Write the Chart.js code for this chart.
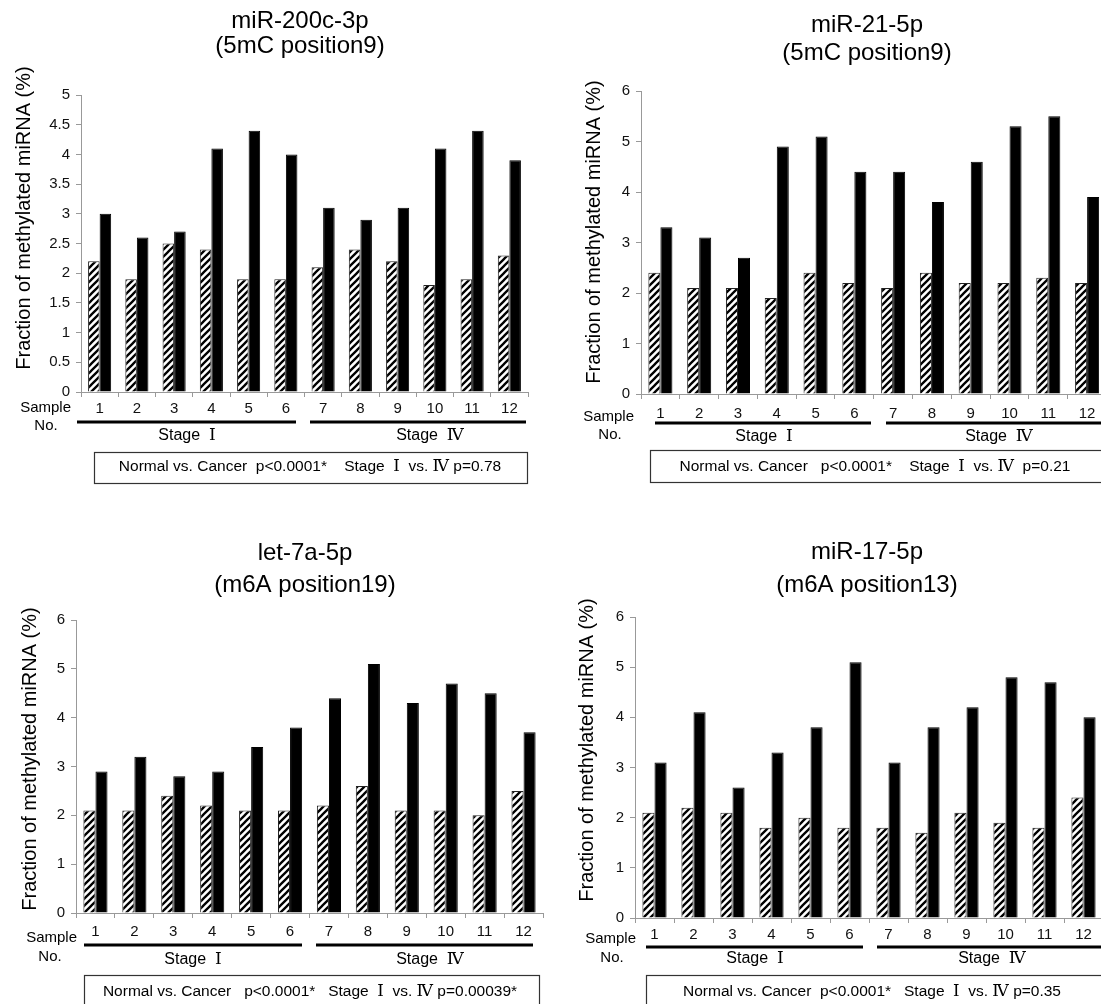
<!DOCTYPE html>
<html>
<head>
<meta charset="utf-8">
<title>Fraction of methylated miRNA</title>
<script src="https://cdn.jsdelivr.net/npm/chart.js@4.4.1/dist/chart.umd.min.js"></script>
<style>
  html, body { margin: 0; padding: 0; background: #fff; overflow: hidden; width: 1101px; height: 1004px; }
  canvas { position: absolute; }
</style>
</head>
<body>
<canvas id="c1" width="550" height="500" style="left:0;top:0"></canvas>
<canvas id="c2" width="560" height="500" style="left:550px;top:0"></canvas>
<canvas id="c3" width="550" height="520" style="left:0;top:500px"></canvas>
<canvas id="c4" width="560" height="520" style="left:550px;top:500px"></canvas>
<script>
// sample numbers (1-6 stage I, 7-12 stage IV)
const samples = ['1', '2', '3', '4', '5', '6', '7', '8', '9', '10', '11', '12'];

// miR-200c-3p, 5mC at position 9
const normal200c = [2.2, 1.9, 2.5, 2.4, 1.9, 1.9, 2.1, 2.4, 2.2, 1.8, 1.9, 2.3];
const cancer200c = [3.0, 2.6, 2.7, 4.1, 4.4, 4.0, 3.1, 2.9, 3.1, 4.1, 4.4, 3.9];

// miR-21-5p, 5mC at position 9
const normal21 = [2.4, 2.1, 2.1, 1.9, 2.4, 2.2, 2.1, 2.4, 2.2, 2.2, 2.3, 2.2];
const cancer21 = [3.3, 3.1, 2.7, 4.9, 5.1, 4.4, 4.4, 3.8, 4.6, 5.3, 5.5, 3.9];

// let-7a-5p, m6A at position 19
const normalLet7a = [2.1, 2.1, 2.4, 2.2, 2.1, 2.1, 2.2, 2.6, 2.1, 2.1, 2.0, 2.5];
const cancerLet7a = [2.9, 3.2, 2.8, 2.9, 3.4, 3.8, 4.4, 5.1, 4.3, 4.7, 4.5, 3.7];

// miR-17-5p, m6A at position 13
const normal17 = [2.1, 2.2, 2.1, 1.8, 2.0, 1.8, 1.8, 1.7, 2.1, 1.9, 1.8, 2.4];
const cancer17 = [3.1, 4.1, 2.6, 3.3, 3.8, 5.1, 3.1, 3.8, 4.2, 4.8, 4.7, 4.0];

const SANS = '"Liberation Sans", Arial, sans-serif';
const SERIF = '"Liberation Serif", "DejaVu Serif", serif';

// diagonal hatch for the normal-tissue bars
function makeHatch() {
  const s = 7;
  const c = document.createElement('canvas');
  c.width = s; c.height = s;
  const g = c.getContext('2d');
  g.fillStyle = '#fff';
  g.fillRect(0, 0, s, s);
  g.strokeStyle = '#000';
  g.lineWidth = 2.3;
  g.beginPath();
  g.moveTo(-1, s + 1); g.lineTo(s + 1, -1);
  g.moveTo(-1, 1); g.lineTo(1, -1);
  g.moveTo(s - 1, s + 1); g.lineTo(s + 1, s - 1);
  g.stroke();
  return g.createPattern(c, 'repeat');
}

// text with the roman numerals set in a serif face
function drawMixed(ctx, str, cx, cy, size) {
  const parts = str.split(/([ⅠⅣ])/).filter(p => p.length);
  const fontOf = p => (/[ⅠⅣ]/.test(p) ? (size + 1) + 'px ' + SERIF : size + 'px ' + SANS);
  let total = 0;
  parts.forEach(p => { ctx.font = fontOf(p); total += ctx.measureText(p).width; });
  let x = cx - total / 2;
  ctx.textAlign = 'left';
  ctx.textBaseline = 'middle';
  parts.forEach(p => {
    ctx.font = fontOf(p);
    ctx.fillText(p, x, cy);
    x += ctx.measureText(p).width;
  });
}

const extras = {
  id: 'extras',
  afterDraw(chart, args, o) {
    const ctx = chart.ctx;
    ctx.save();
    ctx.fillStyle = '#000';

    // two-line title
    ctx.font = o.titleSize + 'px ' + SANS;
    ctx.textAlign = 'center';
    ctx.textBaseline = 'middle';
    ctx.fillText(o.title[0], o.titleX, o.titleY[0]);
    ctx.fillText(o.title[1], o.titleX, o.titleY[1]);

    // y axis title
    ctx.save();
    ctx.translate(o.yTitle[0], o.yTitle[1]);
    ctx.rotate(-Math.PI / 2);
    ctx.font = '20px ' + SANS;
    ctx.fillText('Fraction of methylated miRNA (%)', 0, 0);
    ctx.restore();

    // "Sample No."
    ctx.font = '15px ' + SANS;
    ctx.textAlign = 'right';
    ctx.fillText('Sample', o.sample[0], o.sample[1]);
    ctx.textAlign = 'center';
    ctx.fillText('No.', o.no[0], o.no[1]);

    // stage bars and labels
    ctx.strokeStyle = '#000';
    ctx.lineWidth = 3;
    o.lines.forEach(([a, b]) => {
      ctx.beginPath();
      ctx.moveTo(a, o.lineY);
      ctx.lineTo(b, o.lineY);
      ctx.stroke();
    });
    drawMixed(ctx, 'Stage  Ⅰ', o.stageX[0], o.stageY, 16);
    drawMixed(ctx, 'Stage  Ⅳ', o.stageX[1], o.stageY, 16);

    // statistics box
    ctx.lineWidth = 1.2;
    ctx.strokeStyle = '#333';
    ctx.strokeRect(o.box[0] + 0.5, o.box[1] + 0.5, o.box[2], o.box[3]);
    drawMixed(ctx, o.stat, o.statX, o.statY, 15.5);
    ctx.restore();
  }
};

function makeChart(id, normal, cancer, yMax, yStep, geo, notes) {
  const hatch = makeHatch();
  new Chart(document.getElementById(id), {
    type: 'bar',
    data: {
      labels: samples,
      datasets: [
        { label: 'Normal', data: normal, backgroundColor: hatch, borderColor: '#222', borderWidth: 1,
          categoryPercentage: 0.62, barPercentage: 1.0 },
        { label: 'Cancer', data: cancer, backgroundColor: '#000', borderColor: '#000', borderWidth: 1,
          categoryPercentage: 0.62, barPercentage: 1.0 }
      ]
    },
    options: {
      responsive: false,
      animation: false,
      layout: { padding: { left: 0, right: geo.right, top: geo.top, bottom: 0 } },
      plugins: { legend: { display: false }, tooltip: { enabled: false }, extras: notes },
      scales: {
        x: {
          afterFit: s => { s.height = geo.xh; },
          grid: { drawOnChartArea: false, offset: true, tickLength: 5, color: '#999' },
          border: { color: '#999', width: 1 },
          ticks: { font: { family: SANS, size: 15 }, color: '#111', padding: geo.xPad, maxRotation: 0, autoSkip: false }
        },
        y: {
          min: 0, max: yMax,
          afterFit: s => { s.width = geo.yw; },
          grid: { drawOnChartArea: false, tickLength: 5, color: '#999' },
          border: { color: '#999', width: 1 },
          ticks: { stepSize: yStep, font: { family: SANS, size: 15 }, color: '#111', padding: 6,
                   callback: v => String(v) }
        }
      }
    },
    plugins: [extras]
  });
}

makeChart('c1', normal200c, cancer200c, 5, 0.5,
  { right: 22, top: 95, xh: 108, yw: 81, xPad: 3 },
  { title: ['miR-200c-3p', '(5mC position9)'], titleSize: 24, titleX: 300, titleY: [21, 46],
    yTitle: [24, 218], sample: [71, 408], no: [46, 426],
    lineY: 422, lines: [[77, 296], [310, 526]], stageY: 436, stageX: [187, 430],
    box: [94, 452, 433, 31], stat: 'Normal vs. Cancer  p<0.0001*    Stage  Ⅰ  vs. Ⅳ p=0.78', statX: 310, statY: 467 });

makeChart('c2', normal21, cancer21, 6, 1,
  { right: 3.5, top: 91, xh: 106, yw: 91, xPad: 5.5 },
  { title: ['miR-21-5p', '(5mC position9)'], titleSize: 24, titleX: 317, titleY: [25, 53],
    yTitle: [44, 232], sample: [84, 417], no: [60, 435],
    lineY: 423, lines: [[105, 321], [336, 560]], stageY: 437, stageX: [214, 449],
    box: [100, 450, 470, 32], stat: 'Normal vs. Cancer   p<0.0001*    Stage  Ⅰ  vs. Ⅳ  p=0.21', statX: 325, statY: 467 });

makeChart('c3', normalLet7a, cancerLet7a, 6, 1,
  { right: 7, top: 120, xh: 107, yw: 76, xPad: 4.5 },
  { title: ['let-7a-5p', '(m6A position19)'], titleSize: 24, titleX: 305, titleY: [53, 85],
    yTitle: [30, 259], sample: [77, 438], no: [50, 457],
    lineY: 445, lines: [[84, 302], [316, 533]], stageY: 460, stageX: [193, 430],
    box: [84, 475, 455, 40], stat: 'Normal vs. Cancer   p<0.0001*   Stage  Ⅰ  vs. Ⅳ p=0.00039*', statX: 310, statY: 492 });

makeChart('c4', normal17, cancer17, 6, 1,
  { right: 7, top: 117, xh: 102, yw: 85, xPad: 2.5 },
  { title: ['miR-17-5p', '(m6A position13)'], titleSize: 24, titleX: 317, titleY: [52, 85],
    yTitle: [37, 250], sample: [86, 439], no: [62, 458],
    lineY: 447, lines: [[96, 313], [327, 560]], stageY: 459, stageX: [205, 442],
    box: [96, 475, 470, 40], stat: 'Normal vs. Cancer  p<0.0001*   Stage  Ⅰ  vs. Ⅳ p=0.35', statX: 322, statY: 492 });
</script>
</body>
</html>
